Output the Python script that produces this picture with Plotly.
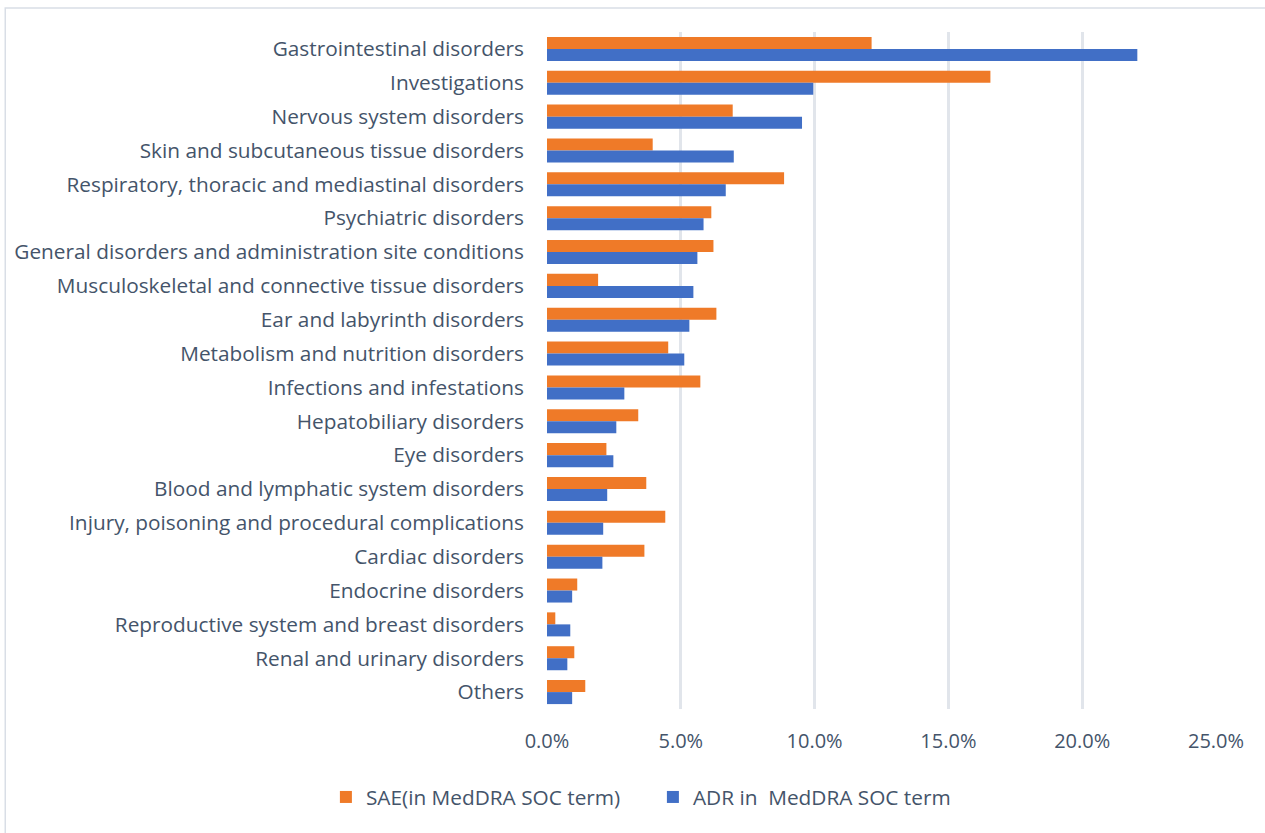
import plotly.graph_objects as go

categories = [
    "Gastrointestinal disorders",
    "Investigations",
    "Nervous system disorders",
    "Skin and subcutaneous tissue disorders",
    "Respiratory, thoracic and mediastinal disorders",
    "Psychiatric disorders",
    "General disorders and administration site conditions",
    "Musculoskeletal and connective tissue disorders",
    "Ear and labyrinth disorders",
    "Metabolism and nutrition disorders",
    "Infections and infestations",
    "Hepatobiliary disorders",
    "Eye disorders",
    "Blood and lymphatic system disorders",
    "Injury, poisoning and procedural complications",
    "Cardiac disorders",
    "Endocrine disorders",
    "Reproductive system and breast disorders",
    "Renal and urinary disorders",
    "Others",
]

sae_values = [0.1213, 0.1657, 0.0694, 0.0395, 0.0886, 0.0614, 0.0622, 0.0191, 0.0633, 0.0453,
              0.0573, 0.0341, 0.0222, 0.0371, 0.0442, 0.0364, 0.0113, 0.0031, 0.0102, 0.0143]
adr_values = [0.2206, 0.0995, 0.0953, 0.0698, 0.0668, 0.0585, 0.0562, 0.0547, 0.0532, 0.0513,
              0.0289, 0.0259, 0.0248, 0.0225, 0.0210, 0.0207, 0.0094, 0.0087, 0.0076, 0.0094]

x_ticks = [0, 0.05, 0.10, 0.15, 0.20, 0.25]
x_tick_labels = ["0.0%", "5.0%", "10.0%", "15.0%", "20.0%", "25.0%"]

series_names = ["SAE(in MedDRA SOC term)", "ADR in  MedDRA SOC term"]

FONT = "Open Sans"
TEXT = "#44546A"

fig = go.Figure()
fig.add_trace(go.Bar(y=categories, x=sae_values, orientation="h", name=series_names[0],
                     marker=dict(color="#EF7A28", line=dict(width=0))))
fig.add_trace(go.Bar(y=categories, x=adr_values, orientation="h", name=series_names[1],
                     marker=dict(color="#416FC6", line=dict(width=0))))

W, H = 1265, 833
plot_left, plot_right, plot_top, plot_bottom = 547, 1215.7, 32, 709.5
L = plot_left
R = W - plot_right
T = plot_top
B = H - plot_bottom
pw, ph = plot_right - plot_left, plot_bottom - plot_top

def px_x(p):
    return (p - plot_left) / pw

def px_y(p):
    return (plot_bottom - p) / ph

fig.update_layout(
    width=W, height=H,
    margin=dict(l=L, r=R, t=T, b=B, pad=0),
    paper_bgcolor="white", plot_bgcolor="white",
    barmode="group", bargap=0.29, bargroupgap=0,
    font=dict(family=FONT, size=20.8, color=TEXT),
    xaxis=dict(range=[0, 0.25], tickvals=x_ticks, ticktext=x_tick_labels,
               tickfont=dict(size=20),
               showgrid=True, gridcolor="#E1E5EB", gridwidth=2.5, zeroline=False,
               showline=False, ticks="", ticklabelstandoff=18, fixedrange=True),
    yaxis=dict(autorange="reversed", showgrid=False, showline=False, ticks="",
               ticklabelstandoff=22, fixedrange=True),
    legend=dict(orientation="h", xref="paper", x=px_x(326), xanchor="left",
                y=px_y(798), yanchor="middle", font=dict(size=20.8, color=TEXT),
                traceorder="normal", itemwidth=30, entrywidth=282),
    showlegend=True,
    shapes=[dict(type="rect", xref="paper", yref="paper",
                 x0=px_x(5.5), x1=px_x(1400), y0=px_y(1000), y1=px_y(8),
                 line=dict(color="#D9DEE6", width=1.5), fillcolor="rgba(0,0,0,0)", layer="below")],
)

fig.write_html("out.html", config={"displayModeBar": False},
               post_script="document.body.style.margin='0';")
